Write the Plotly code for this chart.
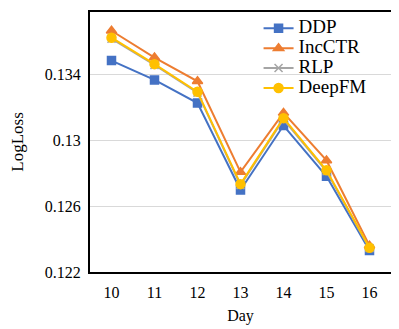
import plotly.graph_objects as go

days = ['10', '11', '12', '13', '14', '15', '16']
ddp = [0.13485, 0.13367, 0.13227, 0.12698, 0.1309, 0.12782, 0.1233]
incctr = [0.13666, 0.13503, 0.13359, 0.12807, 0.13167, 0.12878, 0.1236]
rlp = [0.13618, 0.13458, 0.13290, 0.12728, 0.13128, 0.12812, 0.12345]
deepfm = [0.13624, 0.13463, 0.13295, 0.12734, 0.13135, 0.12818, 0.12347]

y_ticks = [0.122, 0.126, 0.13, 0.134]
y_tick_text = ['0.122', '0.126', '0.13', '0.134']

series = [
    ('DDP', ddp, '#4472C4', 'square', 8),
    ('IncCTR', incctr, '#ED7D31', 'triangle-up', 9),
    ('RLP', rlp, '#A5A5A5', 'x-thin', 8),
    ('DeepFM', deepfm, '#FFC000', 'circle', 9),
]

fig = go.Figure()
for name, vals, color, symbol, size in series:
    fig.add_trace(go.Scatter(
        x=days, y=vals, mode='lines+markers',
        # bigger legend text while keeping the tight row spacing
        name='<span style="font-size:19px">%s</span>' % name,
        line=dict(color=color, width=2),
        marker=dict(symbol=symbol, size=size, color=color,
                    line=dict(color=color, width=1.5)),
    ))

serif = 'Liberation Serif'

fig.update_xaxes(
    type='category', range=[-0.5, 6.5],
    showline=True, linecolor='black', linewidth=2, mirror=True,
    showgrid=False, ticks='outside', ticklen=5, tickcolor='rgba(0,0,0,0)',
    title_text='Day',
    tickfont=dict(family=serif, size=16),
    title_font=dict(family=serif, size=16), title_standoff=10,
)
fig.update_yaxes(
    range=[0.122, 0.1378], tickvals=y_ticks, ticktext=y_tick_text,
    showline=True, linecolor='black', linewidth=2, mirror=True,
    showgrid=True, gridcolor='#D9D9D9', gridwidth=1, zeroline=False,
    ticks='outside', ticklen=4, tickcolor='rgba(0,0,0,0)',
    title_text='LogLoss',
    tickfont=dict(family=serif, size=16),
    title_font=dict(family=serif, size=17), title_standoff=23,
)
# page body adds an 8px offset, so the figure is shrunk to fit the window
fig.update_layout(
    width=391, height=321,
    margin=dict(l=82, r=8, t=2, b=57),
    plot_bgcolor='white', paper_bgcolor='white',
    font=dict(family=serif, size=15, color='black'),
    legend=dict(x=0.56, y=0.995, xanchor='left', yanchor='top',
                bgcolor='rgba(0,0,0,0)', font=dict(family=serif, size=13),
                tracegroupgap=0, itemwidth=30),
)

fig.write_html("out.html")
